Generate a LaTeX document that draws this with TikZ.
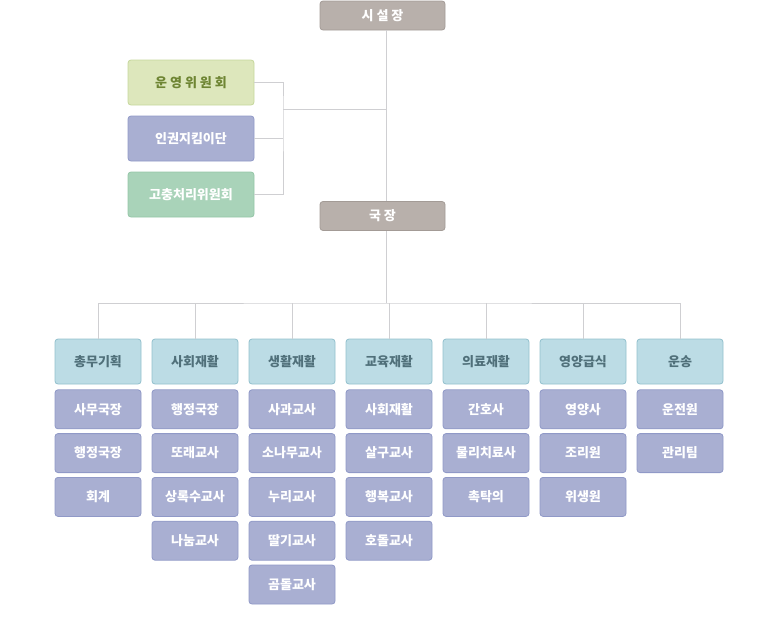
\documentclass[tikz,border=0pt]{standalone}
\usepackage{fontspec}
\setmainfont{Noto Sans CJK KR}
\usetikzlibrary{positioning}

\definecolor{topfill}{HTML}{B8B0AB}
\definecolor{topline}{HTML}{A39B96}
\definecolor{greenfill}{HTML}{DDE7BC}
\definecolor{greenline}{HTML}{C6D79C}
\definecolor{greentext}{HTML}{6E8533}
\definecolor{mintfill}{HTML}{A9D3B9}
\definecolor{mintline}{HTML}{95C6A7}
\definecolor{bluefill}{HTML}{A9AFD2}
\definecolor{blueline}{HTML}{9099C7}
\definecolor{skyfill}{HTML}{BCDCE5}
\definecolor{skyline}{HTML}{92C0CD}
\definecolor{skytext}{HTML}{50707A}
\definecolor{wire}{HTML}{CFCFD2}

\begin{document}
\begin{tikzpicture}[x=1pt, y=-1pt, node distance=4pt,
  box/.style={rectangle, rounded corners=3pt, line width=0.8pt, inner sep=0pt, font=\fontsize{13}{15}\selectfont\bfseries},
  top/.style={box, fill=topfill, draw=topline, text=white, minimum width=125pt, minimum height=29pt},
  comm/.style={box, text=white, minimum width=126pt, minimum height=45pt},
  head/.style={box, fill=skyfill, draw=skyline, text=skytext, minimum width=86pt, minimum height=45pt},
  sub/.style={box, fill=bluefill, draw=blueline, text=white, minimum width=86pt, minimum height=39pt},
  conn/.style={draw=wire, line width=0.8pt}]
  \useasboundingbox (0,0) rectangle (757,640);

  % top of the chart
  \node[top] (chief) at (382.5,15.5) {시 설 장};
  \node[top] (director) at (382.5,216) {국 장};

  % committees
  \node[comm, fill=greenfill, draw=greenline, text=greentext] (c1) at (191,82.5) {운 영 위 원 회};
  \node[comm, fill=bluefill, draw=blueline] (c2) at (191,138.5) {인권지킴이단};
  \node[comm, fill=mintfill, draw=mintline] (c3) at (191,194.5) {고충처리위원회};

  % departments
  \node[head] (h1) at (98,361.5) {총무기획};
  \node[head] (h2) at (195,361.5) {사회재활};
  \node[head] (h3) at (292,361.5) {생활재활};
  \node[head] (h4) at (389,361.5) {교육재활};
  \node[head] (h5) at (486,361.5) {의료재활};
  \node[head] (h6) at (583,361.5) {영양급식};
  \node[head] (h7) at (680,361.5) {운송};

  \node[sub, below=5pt of h1] (h1a) {사무국장};
  \node[sub, below=of h1a] (h1b) {행정국장};
  \node[sub, below=of h1b] (h1c) {회계};

  \node[sub, below=5pt of h2] (h2a) {행정국장};
  \node[sub, below=of h2a] (h2b) {또래교사};
  \node[sub, below=of h2b] (h2c) {상록수교사};
  \node[sub, below=of h2c] (h2d) {나눔교사};

  \node[sub, below=5pt of h3] (h3a) {사과교사};
  \node[sub, below=of h3a] (h3b) {소나무교사};
  \node[sub, below=of h3b] (h3c) {누리교사};
  \node[sub, below=of h3c] (h3d) {딸기교사};
  \node[sub, below=of h3d] (h3e) {곰돌교사};

  \node[sub, below=5pt of h4] (h4a) {사회재활};
  \node[sub, below=of h4a] (h4b) {살구교사};
  \node[sub, below=of h4b] (h4c) {행복교사};
  \node[sub, below=of h4c] (h4d) {호돌교사};

  \node[sub, below=5pt of h5] (h5a) {간호사};
  \node[sub, below=of h5a] (h5b) {물리치료사};
  \node[sub, below=of h5b] (h5c) {촉탁의};

  \node[sub, below=5pt of h6] (h6a) {영양사};
  \node[sub, below=of h6a] (h6b) {조리원};
  \node[sub, below=of h6b] (h6c) {위생원};

  \node[sub, below=5pt of h7] (h7a) {운전원};
  \node[sub, below=of h7a] (h7b) {관리팀};

  % wires
  \coordinate (cj) at (283,109);
  \coordinate (bus) at (386,303);
  \draw[conn] (chief.south -| bus) -- (director.north -| bus);
  \draw[conn] (c1.east) -| (cj) |- (c3.east);
  \draw[conn] (c2.east) -- (c2.east -| cj);
  \draw[conn] (cj) -- (cj -| bus);
  \draw[conn] (director.south -| bus) -- (bus);
  \draw[conn] (h1.north) |- (bus) -| (h7.north);
  \foreach \i in {2,...,6}
    \draw[conn] (h\i.north) -- (h\i.north |- bus);
\end{tikzpicture}
\end{document}
